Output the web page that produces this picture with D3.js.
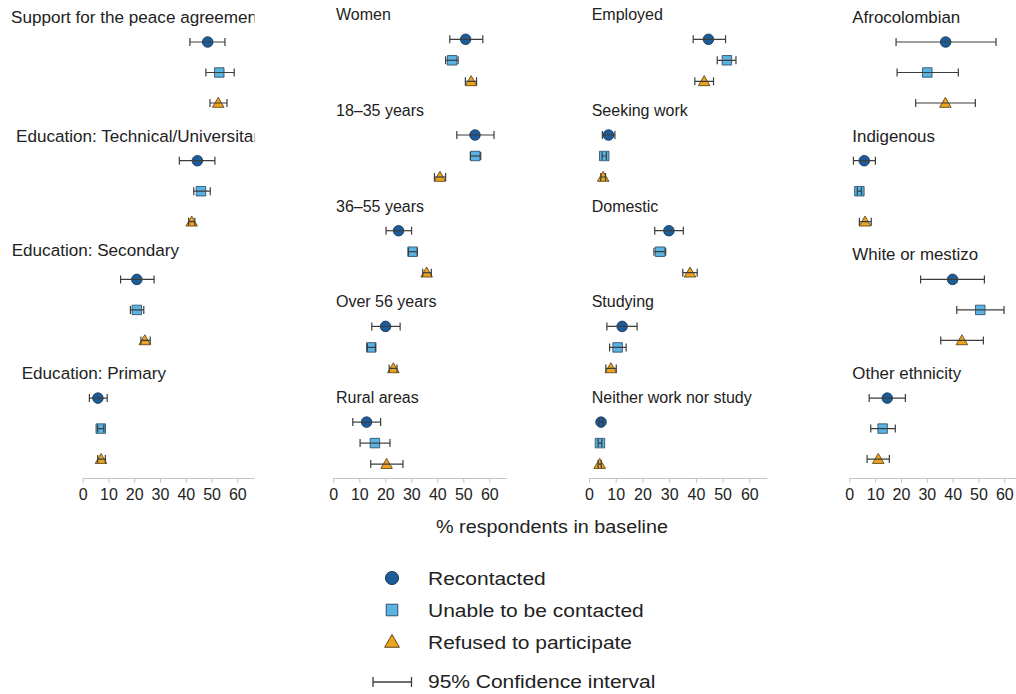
<!DOCTYPE html>
<html>
<head>
<meta charset="utf-8">
<script src="https://cdn.jsdelivr.net/npm/d3@7"></script>
<style>
  body { margin: 0; background: #fff; }
  svg { display: block; }
  text { font-family: "Liberation Sans", Arial, Helvetica, sans-serif; fill: #222; }
</style>
</head>
<body>
<svg id="chart" width="1016" height="694"></svg>
<script>
// ---- Data: share of baseline respondents (%) with 95% confidence intervals ----
const categories = [
  "Support for the peace agreement", "Education:  Technical/Universitaria", "Education: Secondary", "Education: Primary",
  "Women", "18\u201335 years", "36\u201355 years", "Over 56 years", "Rural areas",
  "Employed", "Seeking work", "Domestic", "Studying", "Neither work nor study",
  "Afrocolombian", "Indigenous", "White or mestizo", "Other ethnicity"
];
// which column of panels each category belongs to
const columnOf = [0, 0, 0, 0, 1, 1, 1, 1, 1, 2, 2, 2, 2, 2, 3, 3, 3, 3];

const seriesNames = ["Recontacted", "Unable to be contacted", "Refused to participate"];
const ciLabel = "95% Confidence interval";
const axisTitle = "% respondents in baseline";
const tickValues = [0, 10, 20, 30, 40, 50, 60];

const recontactedEst = [48.5, 44.5, 21.0, 5.9, 50.9, 54.5, 25.1, 20.1, 12.8, 44.7, 7.3, 29.9, 12.4, 4.5, 37.3, 5.8, 40.0, 14.7];
const recontactedLo  = [41.6, 37.5, 14.7, 2.6, 44.8, 47.5, 20.3, 14.8, 7.5, 39.0, 5.0, 24.6, 6.7, 3.8, 18.1, 1.6, 27.6, 7.7];
const recontactedHi  = [55.2, 51.3, 27.7, 9.5, 57.5, 61.8, 30.1, 25.7, 18.2, 51.1, 9.7, 35.3, 18.0, 5.2, 56.8, 10.1, 52.3, 21.7];

const unableEst = [53.0, 45.9, 21.0, 7.0, 45.7, 54.6, 30.5, 14.6, 16.0, 51.6, 5.7, 26.6, 10.7, 4.1, 30.2, 3.9, 50.7, 12.9];
const unableLo  = [47.8, 43.1, 18.5, 5.8, 43.2, 52.7, 28.9, 13.1, 10.3, 48.0, 4.9, 24.3, 7.7, 3.4, 18.5, 3.1, 41.6, 8.3];
const unableHi  = [58.8, 49.5, 23.7, 8.2, 48.0, 56.7, 32.3, 16.2, 21.8, 55.0, 6.5, 28.7, 13.9, 4.8, 42.2, 4.7, 59.9, 17.8];

const refusedEst = [52.6, 42.3, 24.1, 7.1, 53.0, 41.0, 35.9, 23.1, 20.5, 43.1, 5.3, 37.8, 8.2, 4.0, 37.2, 6.1, 43.6, 11.2];
const refusedLo  = [49.4, 41.1, 22.6, 5.8, 50.8, 38.9, 34.4, 21.5, 14.4, 39.6, 4.4, 35.1, 6.3, 3.4, 25.7, 3.9, 35.4, 6.9];
const refusedHi  = [56.0, 43.5, 26.2, 8.8, 55.1, 43.2, 37.7, 24.5, 26.8, 46.6, 6.2, 40.5, 10.2, 4.6, 48.8, 8.5, 51.9, 15.5];

// ---- Layout ----
const columns = [
  { x0: 82.7,  per10: 25.77, titleX: 11,    titleSize: 17.1, top: 42,   groupStep: 118.7, rowStep: 30.5, clipRight: 254.5 },
  { x0: 333.3, per10: 26.0,  titleX: 336,   titleSize: 16.0, top: 39.3, groupStep: 95.7,  rowStep: 21,   clipRight: 570 },
  { x0: 589,   per10: 26.72, titleX: 591.7, titleSize: 16.0, top: 39.3, groupStep: 95.7,  rowStep: 21,   clipRight: 830 },
  { x0: 849.3, per10: 25.83, titleX: 852.3, titleSize: 16.9, top: 42,   groupStep: 118.7, rowStep: 30.5, clipRight: 1016 }
];
const axisMax = 66.5;
const axisY = 478;
const titleDrop = 19;
const titleShift = { 1: [5, 0], 2: [0.7, -4], 3: [10.7, 0] };

const colors = {
  fills: ["#1d5c99", "#5ab3e2", "#eca420"],
  strokes: ["#0f2f4f", "#24455f", "#4f3a0e"],
  ci: "#3d3d3d",
  axis: "#c4c4c4"
};

const series = [
  { est: recontactedEst, lo: recontactedLo, hi: recontactedHi, shape: d3.symbolCircle,   size: 88 },
  { est: unableEst,      lo: unableLo,      hi: unableHi,      shape: d3.symbolSquare,   size: 90 },
  { est: refusedEst,     lo: refusedLo,     hi: refusedHi,     shape: d3.symbolTriangle, size: 58 }
];

const svg = d3.select("#chart");

// horizontally widened text, as the legend and axis title use
function wideText(parent, x, y, size, stretch, str) {
  return parent.append("text")
    .attr("transform", `translate(${x},${y}) scale(${stretch},1)`)
    .attr("font-size", size)
    .text(str);
}

// position of each category inside its column
const groupIndex = categories.map((c, i) => columnOf.slice(0, i).filter(k => k === columnOf[i]).length);

columns.forEach((col, ci) => {
  const x = d3.scaleLinear().domain([0, axisMax]).range([col.x0, col.x0 + axisMax * col.per10 / 10]);
  const left = ci === 0 ? 0 : col.titleX - 6;

  svg.append("clipPath").attr("id", "clip" + ci)
    .append("rect").attr("x", left).attr("y", 0).attr("width", col.clipRight - left).attr("height", 470);

  const g = svg.append("g").attr("clip-path", `url(#clip${ci})`);

  categories.forEach((name, i) => {
    if (columnOf[i] !== ci) return;
    const gy = col.top + groupIndex[i] * col.groupStep;
    const nudge = (ci === 0 && titleShift[groupIndex[i]]) || [0, 0];

    g.append("text")
      .attr("x", col.titleX + nudge[0])
      .attr("y", gy - titleDrop + nudge[1])
      .attr("font-size", col.titleSize)
      .text(name);

    series.forEach((s, si) => {
      const y = gy + si * col.rowStep;
      g.append("path")
        .attr("d", d3.symbol().type(s.shape).size(s.size)())
        .attr("transform", `translate(${x(s.est[i])},${y + (si === 2 ? 1 : 0)})`)
        .attr("fill", colors.fills[si])
        .attr("stroke", colors.strokes[si])
        .attr("stroke-width", 0.8);

      const ciG = g.append("g").attr("stroke", colors.ci).attr("stroke-width", 1.2).attr("fill", "none");
      ciG.append("line").attr("x1", x(s.lo[i])).attr("x2", x(s.hi[i])).attr("y1", y).attr("y2", y);
      [s.lo[i], s.hi[i]].forEach(v => {
        ciG.append("line").attr("x1", x(v)).attr("x2", x(v)).attr("y1", y - 4).attr("y2", y + 4);
      });
    });
  });

  const axis = svg.append("g")
    .attr("transform", `translate(0,${axisY})`)
    .call(d3.axisBottom(x).tickValues(tickValues).tickSize(5).tickPadding(6).tickSizeOuter(0));
  axis.select(".domain").attr("stroke", colors.axis).attr("stroke-width", 1);
  axis.selectAll(".tick line").attr("stroke", colors.axis);
  axis.selectAll(".tick text")
    .attr("font-family", "\"Liberation Sans\", Arial, sans-serif")
    .attr("font-size", 16)
    .attr("fill", "#222");
});

// axis title shared by all panels
wideText(svg, 436, 533, 18.5, 1.07, axisTitle);

// ---- Legend ----
const legend = svg.append("g");
const legendX = 392, legendTextX = 428;
const legendRows = [578, 610, 642];
series.forEach((s, si) => {
  legend.append("path")
    .attr("d", d3.symbol().type(s.shape).size(si === 2 ? 95 : 135)())
    .attr("transform", `translate(${legendX},${legendRows[si] + (si === 2 ? 1 : 0)})`)
    .attr("fill", colors.fills[si])
    .attr("stroke", colors.strokes[si])
    .attr("stroke-width", 0.9);
  wideText(legend, legendTextX, legendRows[si] + 6.5, 18.5, 1.135, seriesNames[si]);
});
const ciRowY = 682;
const ciLegend = legend.append("g").attr("stroke", colors.ci).attr("stroke-width", 1.3);
ciLegend.append("line").attr("x1", 373).attr("x2", 411.5).attr("y1", ciRowY).attr("y2", ciRowY);
[373, 411.5].forEach(cx => ciLegend.append("line").attr("x1", cx).attr("x2", cx).attr("y1", ciRowY - 5).attr("y2", ciRowY + 5));
wideText(legend, legendTextX, ciRowY + 6, 18.5, 1.135, ciLabel);
</script>
</body>
</html>
